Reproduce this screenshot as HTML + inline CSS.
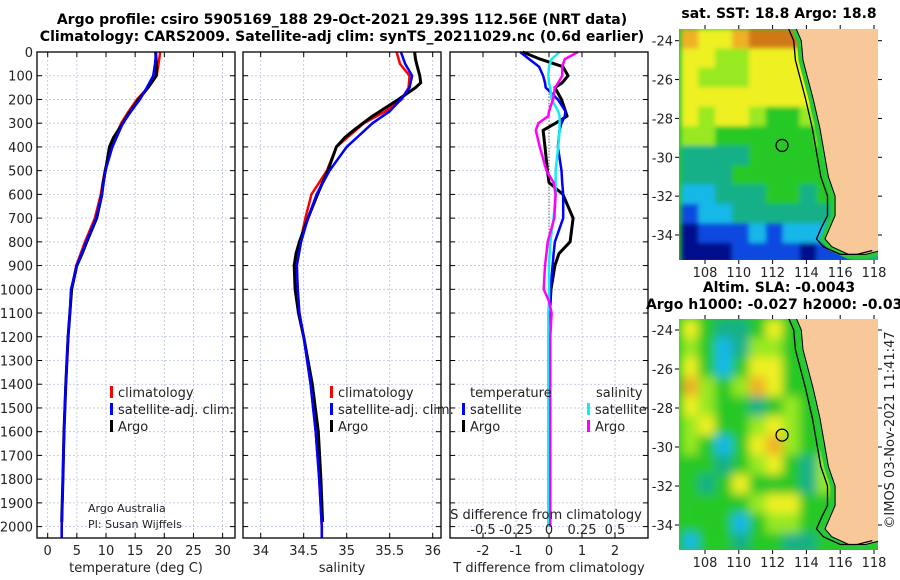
<!DOCTYPE html>
<html><head><meta charset="utf-8"><style>
body{margin:0;background:#fff;}
svg{display:block;font-family:"DejaVu Sans","Liberation Sans",sans-serif;}
.t{font-size:13px;fill:#222}
.b{font-weight:bold;font-size:14px;fill:#000}
.g{stroke:#b8c0e0;stroke-width:0.8;stroke-dasharray:2,2}
</style></head><body>
<svg id="c" width="900" height="580" viewBox="0 0 900 580">
<defs>
<filter id="bl1" x="-5%" y="-5%" width="110%" height="110%"><feGaussianBlur stdDeviation="2.5" edgeMode="duplicate"/></filter>
<filter id="bl2" x="-5%" y="-5%" width="110%" height="110%"><feGaussianBlur stdDeviation="5" edgeMode="duplicate"/></filter>
</defs>
<text x="342" y="24" text-anchor="middle" class="b">Argo profile: csiro 5905169_188 29-Oct-2021 29.39S 112.56E (NRT data)</text>
<text x="342" y="41" text-anchor="middle" class="b">Climatology: CARS2009. Satellite-adj clim: synTS_20211029.nc (0.6d earlier)</text>
<text x="779" y="18" text-anchor="middle" class="b">sat. SST: 18.8 Argo: 18.8</text>
<text x="779" y="292" text-anchor="middle" class="b">Altim. SLA: -0.0043</text>
<text x="779" y="309" text-anchor="middle" class="b">Argo h1000: -0.027 h2000: -0.038</text>
<text transform="translate(894,430) rotate(-90)" text-anchor="middle" class="t">©IMOS 03-Nov-2021 11:41:47</text>
<g id="g"></g>
</svg>
<script>
// ---- data ----
const depthTicks=[0,100,200,300,400,500,600,700,800,900,1000,1100,1200,1300,1400,1500,1600,1700,1800,1900,2000];
const tTicks=[0,5,10,15,20,25,30];
const sTicks=[34,34.5,35,35.5,36];
const dTTicks=[-2,-1,0,1,2];
const dSTicks=[-0.5,-0.25,0,0.25,0.5];
const dSLabels=["-0.5","-0.25","0","0.25","0.5"];
const zClim=[0,50,100,150,200,250,300,400,500,600,700,800,900,1000,1100,1200,1400,1600,1800,2000,2050];
const tClim=[19.3,19.0,18.7,17.2,15.3,13.9,12.6,10.9,9.8,9.1,8.1,6.4,4.9,4.1,3.8,3.5,3.1,2.8,2.6,2.4,2.4];
const tSat=[18.6,18.4,18.1,17.0,15.8,14.3,12.9,11.1,9.9,9.3,8.3,6.6,5.0,4.0,3.8,3.5,3.1,2.8,2.6,2.4,2.4];
const sClim=[35.58,35.62,35.73,35.72,35.64,35.45,35.2,34.88,34.77,34.59,34.52,34.46,34.42,34.43,34.45,34.5,34.58,34.64,34.68,34.71,34.71];
const sSat=[35.63,35.68,35.76,35.73,35.63,35.5,35.3,35.0,34.8,34.65,34.55,34.47,34.42,34.43,34.45,34.5,34.58,34.64,34.68,34.71,34.71];
const zArgo=[0,30,60,100,130,150,200,270,300,330,360,400,500,550,600,700,800,850,900,1000,1100,1200,1400,1600,1800,1980];
const tArgo=[18.5,18.6,18.7,18.6,17.8,17.2,15.6,13.6,12.9,12.1,11.3,10.6,9.9,9.5,9.3,8.4,6.7,5.9,5.0,4.1,3.8,3.5,3.1,2.8,2.6,2.4];
const sArgo=[35.79,35.8,35.82,35.85,35.86,35.8,35.6,35.3,35.19,35.08,34.98,34.88,34.78,34.72,34.66,34.55,34.45,34.41,34.39,34.4,34.44,34.5,34.6,34.67,34.7,34.72];
const zD=[0,30,62,100,130,150,200,250,270,300,330,400,500,550,600,700,800,850,900,1000,1050,1100,1200,1400,1600,1800,2000];
const dTSat=[-0.88,-0.6,-0.3,-0.18,-0.12,-0.1,0.27,0.5,0.48,0.38,0.32,0.27,0.38,0.4,0.43,0.43,0.18,0.14,0.11,0.05,0.04,0.03,0.02,0.02,0.01,0.01,0.01];
const dTArgo=[-0.8,-0.27,0.42,0.58,0.4,0.18,0.38,0.5,0.55,0.2,-0.18,-0.12,-0.05,0.0,0.42,0.73,0.64,0.3,0.18,0.06,0.04,0.02,0.01,0.01,0.0,0.0,0.0];
const dSArgo=[0.22,0.12,0.1,0.1,0.07,0.045,0.03,0.0,-0.005,-0.08,-0.1,-0.07,-0.02,0.035,0.05,0.04,-0.01,-0.02,-0.03,-0.04,0.0,0.02,0.01,0.01,0.01,0.01,0.01];
const dSSat=[0.08,0.02,0.0,-0.005,0.0,0.01,0.02,0.07,0.08,0.08,0.08,0.07,0.05,0.05,0.05,0.035,0.01,0.005,0.0,0.0,0.0,-0.005,-0.005,-0.005,-0.005,-0.005,-0.005];
const sstGrid=[
[7,6,6,7,8,8,8,7,7,7,7,7],[6,6,5,5,6,6,6,6,7,7,7,7],[6,5,5,5,6,6,6,6,6,6,6,6],[6,6,6,6,6,6,6,6,6,6,6,6],
[6,5,6,6,5,4,4,5,6,6,5,5],[5,5,4,4,4,4,4,4,5,5,5,5],[3,3,3,3,4,4,4,4,4,5,5,5],[3,3,3,4,4,4,4,4,4,4,5,5],
[2,2,3,3,3,4,4,3,4,4,5,5],[1,2,2,3,3,3,3,3,3,4,4,4],[0,1,1,1,2,1,2,2,2,1,3,4],[0,0,0,1,1,1,1,0,1,1,3,3]];
const slaGrid=[
[6,4,3,3,4,6,4,4,4,4,4,4],[5,4,2,3,5,5,4,4,4,4,4,4],[6,4,2,4,6,6,4,4,4,4,4,4],[7,5,4,5,7,6,4,4,4,4,4,4],
[6,5,4,4,3,4,5,4,4,4,4,4],[5,6,4,4,5,6,5,4,4,4,4,4],[5,4,2,4,6,7,5,4,4,4,4,4],[4,4,3,4,5,6,4,3,5,4,4,4],
[4,3,4,6,4,4,4,3,5,4,4,4],[4,4,4,4,5,6,6,4,4,4,4,4],[4,4,4,2,4,5,5,4,4,4,4,4],[2,4,4,3,4,4,3,3,4,4,4,4]];
const latTicks=[-24,-26,-28,-30,-32,-34];
const lonTicks=[108,110,112,114,116,118];
const coastLon=[113.4,113.7,113.8,114.1,114.4,114.8,115.1,115.3,115.7,115.7,115.4,115.1,115.5,116.5,117.5,118.4];
const coastLat=[-23.4,-24,-25,-26,-27,-28.5,-30,-31,-32,-33,-33.6,-34.2,-34.6,-35,-35,-34.8];
const argoPos=[112.56,-29.39];
// ---- drawing ----
const NS="http://www.w3.org/2000/svg";
const G=document.getElementById('g');
function mk(tag,at,parent){const e=document.createElementNS(NS,tag);for(const k in at)e.setAttribute(k,at[k]);(parent||G).appendChild(e);return e;}
const Y=d=>52+d*0.2373;
const panels=[{x0:37,x1:235,fx:v=>47.7+v*5.83,ticks:tTicks,labels:tTicks.map(String),title:"temperature (deg C)",name:"temperature"},
{x0:243,x1:441,fx:v=>260.7+(v-34)*86,ticks:sTicks,labels:sTicks.map(String),title:"salinity",name:"salinity"},
{x0:450,x1:648,fx:v=>549+v*33,ticks:dTTicks,labels:dTTicks.map(String),title:"T difference from climatology",name:"difference"}];
panels.forEach((p,i)=>{
  p.ticks.forEach(v=>{const l=mk('line',{x1:p.fx(v),x2:p.fx(v),y1:52,y2:538,class:'g'});
  
  });
  depthTicks.forEach(d=>{const l=mk('line',{x1:p.x0,x2:p.x1,y1:Y(d),y2:Y(d),class:'g'});
  
  
  mk('line',{x1:p.x0,x2:p.x0+5,y1:Y(d),y2:Y(d),stroke:'#000'});mk('line',{x1:p.x1-5,x2:p.x1,y1:Y(d),y2:Y(d),stroke:'#000'});});
  p.ticks.forEach((v,j)=>{mk('line',{x1:p.fx(v),x2:p.fx(v),y1:533,y2:538,stroke:'#000'});mk('line',{x1:p.fx(v),x2:p.fx(v),y1:52,y2:57,stroke:'#000'});
    const t=mk('text',{x:p.fx(v),y:555,'text-anchor':'middle',class:'t'});t.textContent=p.labels[j];
    
    });
  const tt=mk('text',{x:(p.x0+p.x1)/2,y:572,'text-anchor':'middle',class:'t'});tt.textContent=p.title;
  
  
});
depthTicks.forEach(d=>{const t=mk('text',{x:33,y:Y(d)+5,'text-anchor':'end',class:'t'});t.textContent=d;
  
  });
function line(p,zs,vs,col,name,w){const pts=zs.map((z,i)=>p.fx(vs[i]).toFixed(1)+','+Y(z).toFixed(1)).join(' ');
  const l=mk('polyline',{points:pts,fill:'none',stroke:col,'stroke-width':w||2.5,'stroke-linejoin':'round'});
  
  }
const P3S={fx:v=>549+v*132};
mk('line',{x1:549,x2:549,y1:Y(100),y2:Y(1000),stroke:'#333','stroke-dasharray':'1,2'});
line(panels[0],zClim,tClim,'#f00','temp-climatology-line');
line(panels[0],zArgo,tArgo,'#000','temp-argo-line',3);
line(panels[0],zClim,tSat,'#00f','temp-satellite-line');
line(panels[1],zClim,sClim,'#f00','sal-climatology-line');
line(panels[1],zArgo,sArgo,'#000','sal-argo-line',3);
line(panels[1],zClim,sSat,'#00f','sal-satellite-line');
line(panels[2],zD,dTArgo,'#000','tdiff-argo-line',3);
line(panels[2],zD,dTSat,'#00f','tdiff-satellite-line');
line(P3S,zD,dSSat,'#1ee','sdiff-satellite-line');
line(P3S,zD,dSArgo,'#f0f','sdiff-argo-line');
panels.forEach(p=>{const r=mk('rect',{x:p.x0,y:52,width:p.x1-p.x0,height:486,fill:'none',stroke:'#000','stroke-width':1.3});
  
  });
function leg(x,y,col,txt,name){mk('rect',{x:x,y:y-11,width:3,height:12,fill:col});
  const t=mk('text',{x:x+8,y:y,class:'t'});t.textContent=txt;
  
  }
function txt(x,y,s,name,cls,anchor){const t=mk('text',{x:x,y:y,class:cls||'t','text-anchor':anchor||'start'});t.textContent=s;
  
  return t;}
leg(110,397,'#f00','climatology','legend-climatology');leg(110,414,'#00f','satellite-adj. clim.','legend-satellite-adj');leg(110,431,'#000','Argo','legend-argo');
leg(330,397,'#f00','climatology','legend2-climatology');leg(330,414,'#00f','satellite-adj. clim.','legend2-satellite-adj');leg(330,431,'#000','Argo','legend2-argo');
txt(470,397,'temperature','legend3-temperature-header');txt(596,397,'salinity','legend3-salinity-header');
leg(462,414,'#00f','satellite','legend3-temp-satellite');leg(462,431,'#000','Argo','legend3-temp-argo');
leg(587,414,'#1ee','satellite','legend3-sal-satellite');leg(587,431,'#f0f','Argo','legend3-sal-argo');
const a1=txt(88,512,'Argo Australia','credit-line-1');a1.style.fontSize='11px';
const a2=txt(88,528,'PI: Susan Wijffels','credit-line-2');a2.style.fontSize='11px';
txt(546,519,'S difference from climatology','s-diff-axis-title','t','middle');
dSTicks.forEach((v,j)=>{txt(P3S.fx(v),534,dSLabels[j],'s-diff-tick-label','t','middle');});
// maps
const cmap=['#00108c','#1048e0','#18b8e8','#18b088','#28c828','#98e820','#eef020','#f0b028','#d07818'];
function map(y0,y1,latA,latB,grid,name,clipId,filt){
  const x0=679,x1=878;const fx=lon=>705+(lon-108)*16.9;const fy=lat=>latA+(lat+24)*(latB-latA)/(-10);
  const g=mk('g',{'clip-path':'url(#'+clipId+')'});
  mk('rect',{x:x0,y:y0,width:x1-x0,height:y1-y0,fill:cmap[4]},g);
  const cg=mk('g',{filter:'url(#'+filt+')'},g);
  grid.forEach((row,r)=>row.forEach((v,c)=>{const lx=106.6+c,ly=-23.4-r;
    const cell=mk('rect',{x:fx(lx).toFixed(1),y:fy(ly).toFixed(1),width:17.5,height:20,fill:cmap[v]},cg);
    
    }));
  const pts=coastLon.map((l,i)=>fx(l).toFixed(1)+','+fy(coastLat[i]).toFixed(1));
  mk('polyline',{points:pts.join(' '),fill:'none',stroke:'#28c838','stroke-width':9},g);
  const land=mk('polygon',{points:pts.join(' ')+' '+fx(118.6)+','+fy(-35.4)+' '+fx(118.6)+','+fy(-23.3),fill:'#f8c898'},g);
  
  const iso=coastLon.map((l,i)=>fx(l-0.45-(i>9?0.05:0)).toFixed(1)+','+fy(coastLat[i]).toFixed(1));
  mk('polyline',{points:iso.join(' '),fill:'none',stroke:'#000','stroke-width':1.3},g);
  mk('polyline',{points:pts.join(' '),fill:'none',stroke:'#000','stroke-width':1},g);
  const cc=mk('circle',{cx:fx(argoPos[0]),cy:fy(argoPos[1]),r:6,fill:'none',stroke:'#000','stroke-width':1.3},g);
  
  latTicks.forEach(l=>{mk('line',{x1:x0-4,x2:x0,y1:fy(l),y2:fy(l),stroke:'#000'});mk('line',{x1:x1,x2:x1+4,y1:fy(l),y2:fy(l),stroke:'#000'});
    txt(673,fy(l)+5,String(l),name+'-lat-label','t','end');});
  lonTicks.forEach(l=>{mk('line',{x1:fx(l),x2:fx(l),y1:y1,y2:y1+4,stroke:'#000'});mk('line',{x1:fx(l),x2:fx(l),y1:y0-4,y2:y0,stroke:'#000'});
    txt(fx(l),y1+17,String(l),name+'-lon-label','t','middle');});
}
const clip=mk('clipPath',{id:'cp1'});mk('rect',{x:679,y:29,width:199,height:231},clip);
const clip2=mk('clipPath',{id:'cp2'});mk('rect',{x:679,y:319,width:199,height:231},clip2);
map(29,260,40.7,235,sstGrid,'sst-map','cp1','bl1');
map(319,550,330,525,slaGrid,'sla-map','cp2','bl2');
</script>
</body></html>
